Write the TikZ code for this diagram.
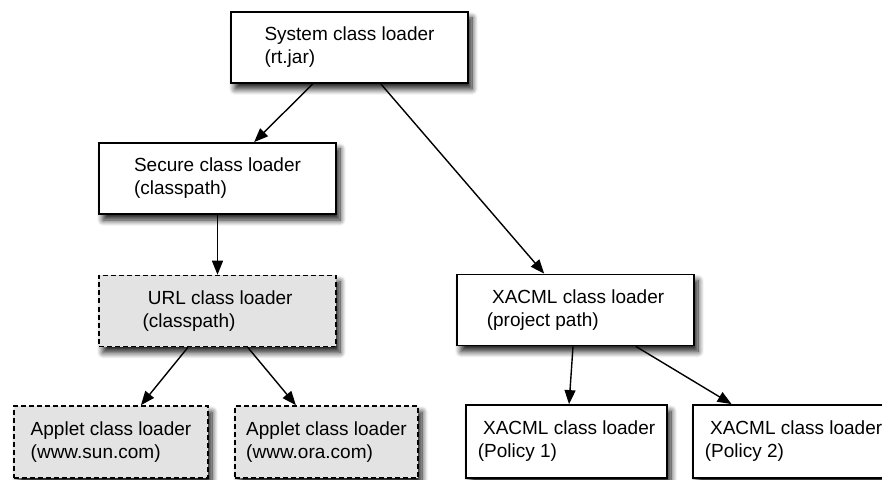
\documentclass[tikz,border=0pt]{standalone}
\usepackage{fontspec}
\setmainfont{Liberation Sans}
\usetikzlibrary{arrows.meta,shadows.blur}
\definecolor{appletgray}{RGB}{227,227,227}
\newcommand{\firstgap}{\hspace*{.28em}}
\begin{document}
\begin{tikzpicture}[x=0.5pt,y=-0.5pt,font=\fontsize{9.5}{11.5}\selectfont]
      \tikzset{loader/.style={draw, line width=0.9pt, fill=white, align=left, minimum width=118.5pt, minimum height=35.5pt,
                 blur shadow={shadow xshift=2pt, shadow yshift=-3pt, shadow opacity=90, shadow blur radius=3pt, shadow blur steps=10}},
               remote/.style={loader, fill=appletgray, line width=0.8pt, dash pattern=on 2.5pt off 1.5pt}}
      \useasboundingbox (0,0) rectangle (882,480);
%% Loaders
      	\node[loader] (sys) at (349.5,47.5) {System class loader\\(rt.jar)};
      	\node[loader] (sec) at (217.5,178.5) {Secure class loader\\(classpath)};
      	\node[remote] (url) at (217.5,311) {\firstgap URL class loader\\(classpath)};
      	\node[loader] (xp) at (575.5,310) {\firstgap XACML class loader\\(project path)};
      	\node[remote, minimum width=97pt, minimum height=36pt] (ap1) at (111,442) {Applet class loader\\(www.sun.com)};
      	\node[remote, minimum width=91.5pt, minimum height=36pt] (ap2) at (326.5,442) {Applet class loader\\(www.ora.com)};
      	\node[loader, minimum width=100.5pt, minimum height=36.5pt] (p1) at (566.5,441.5) {\firstgap XACML class loader\\(Policy 1)};
      	\node[loader, minimum width=100.5pt, minimum height=36.5pt] (p2) at (793.5,441.5) {\firstgap XACML class loader\\(Policy 2)};
%Edges
		\path[line width=0.7pt, -{Triangle[length=7pt,width=5.5pt]}] (sys) edge (sec);
		\path[line width=0.7pt, -{Triangle[length=7pt,width=5.5pt]}] (sys) edge (xp);
		\path[line width=0.7pt, -{Triangle[length=7pt,width=5.5pt]}] (sec) edge (url);
		\path[line width=0.7pt, -{Triangle[length=7pt,width=5.5pt]}] (url) edge (ap1);
		\path[line width=0.7pt, -{Triangle[length=7pt,width=5.5pt]}] (url) edge (ap2);
		\path[line width=0.7pt, -{Triangle[length=7pt,width=5.5pt]}] (xp) edge (p1);
		\path[line width=0.7pt, -{Triangle[length=7pt,width=5.5pt]}] (xp) edge (p2);
	\end{tikzpicture}
\end{document}
